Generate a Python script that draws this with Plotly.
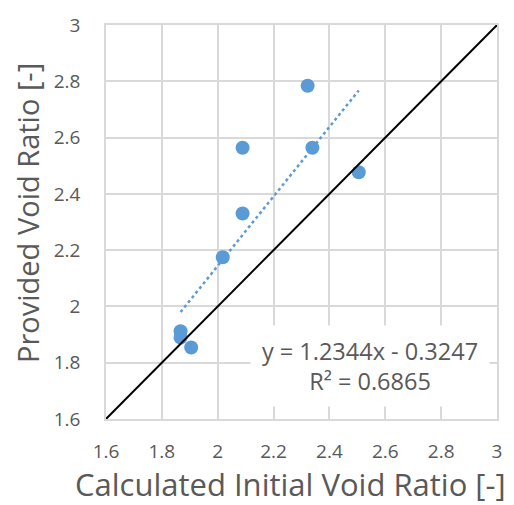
import plotly.graph_objects as go

calc_void = [2.322, 2.089, 2.339, 2.505, 2.089, 2.018, 1.867, 1.867, 1.905]
prov_void = [2.784, 2.564, 2.564, 2.477, 2.330, 2.175, 1.912, 1.889, 1.854]
slope = 1.2344
intercept = -0.3247
r2 = 0.6865
tick_vals = [1.6, 1.8, 2.0, 2.2, 2.4, 2.6, 2.8, 3.0]
tick_text = ["1.6", "1.8", "2", "2.2", "2.4", "2.6", "2.8", "3"]
one_to_one = [1.6, 3.0]

blue = "#5B9BD5"
gray_text = "#595959"
grid = "#D9D9D9"
font = "Open Sans"

x_lo, x_hi = min(calc_void), max(calc_void)
trend_x = [x_lo, x_hi]
trend_y = [slope * v + intercept for v in trend_x]

fig = go.Figure()
fig.add_trace(go.Scatter(x=trend_x, y=trend_y, mode="lines",
                         line=dict(color=blue, width=2.5, dash="dot"), showlegend=False))
fig.add_trace(go.Scatter(x=calc_void, y=prov_void, mode="markers",
                         marker=dict(color=blue, size=14), showlegend=False))
fig.add_trace(go.Scatter(x=one_to_one, y=one_to_one, mode="lines",
                         line=dict(color="black", width=2), showlegend=False))

axis_common = dict(range=[1.6, 3.0], tickvals=tick_vals, ticktext=tick_text,
                   showgrid=True, gridcolor=grid, gridwidth=1.5,
                   showline=True, linecolor=grid, linewidth=1.5, mirror=True,
                   zeroline=False, ticks="",
                   tickfont=dict(family=font, size=19, color=gray_text))
fig.update_xaxes(ticklabelstandoff=14, **axis_common)
fig.update_yaxes(ticklabelstandoff=20, **axis_common)

fig.add_annotation(x=2.544, y=1.789, xref="x", yref="y",
                   text=f"y = {slope}x - {abs(intercept)}<br>R² = {r2}",
                   showarrow=False, bgcolor="white", width=236, height=78,
                   align="center", xanchor="center", yanchor="middle",
                   font=dict(family=font, size=23.5, color=gray_text))
fig.add_annotation(x=0.472, y=-0.1654, xref="paper", yref="paper",
                   text="Calculated Initial Void Ratio [-]", showarrow=False,
                   xanchor="center", yanchor="middle",
                   font=dict(family=font, size=31, color=gray_text))
fig.add_annotation(x=-0.201, y=0.524, xref="paper", yref="paper",
                   text="Provided Void Ratio [-]", showarrow=False, textangle=-90,
                   xanchor="center", yanchor="middle",
                   font=dict(family=font, size=29, color=gray_text))

fig.update_layout(width=514, height=505, margin=dict(l=106, r=15, t=20, b=86),
                  plot_bgcolor="white", paper_bgcolor="white")
fig.write_html("out.html")
